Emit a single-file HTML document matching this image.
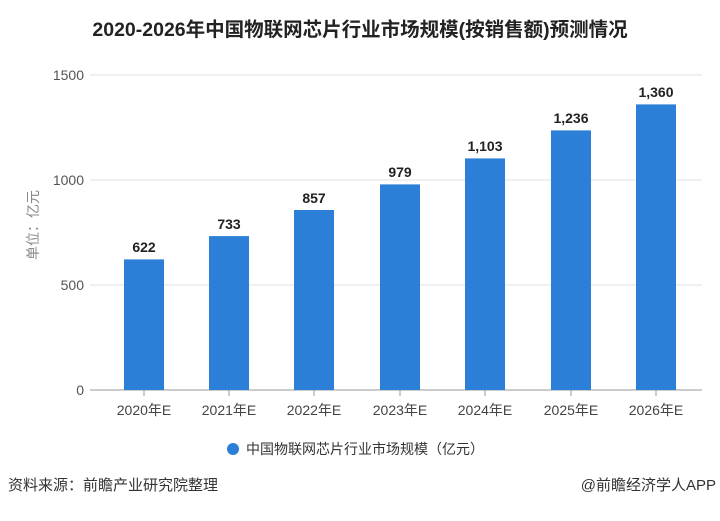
<!DOCTYPE html>
<html><head><meta charset="utf-8"><style>
body{margin:0;background:#fff;}
svg text{font-family:"Liberation Sans","Noto Sans CJK SC",sans-serif;}
</style></head><body>
<svg width="720" height="516" xmlns="http://www.w3.org/2000/svg">
<rect width="720" height="516" fill="#fff"/>
<text x="360" y="36" text-anchor="middle" font-size="19.5" font-weight="bold" fill="#222">2020-2026年中国物联网芯片行业市场规模(按销售额)预测情况</text>
<g stroke="#e2e2e2" stroke-width="1">
<line x1="90" y1="75" x2="702" y2="75"/>
<line x1="90" y1="180" x2="702" y2="180"/>
<line x1="90" y1="285" x2="702" y2="285"/>
</g>
<line x1="90" y1="390" x2="702" y2="390" stroke="#999"/>
<g font-size="14" fill="#555" text-anchor="end">
<text x="84" y="80">1500</text><text x="84" y="185">1000</text><text x="84" y="290">500</text><text x="84" y="395">0</text>
</g>
<text transform="translate(38,225) rotate(-90)" text-anchor="middle" font-size="14" fill="#888">单位：亿元</text>
<g fill="#2b7fd6">
<rect x="124" y="259.4" width="40" height="130.6"/>
<rect x="209" y="236.1" width="40" height="153.9"/>
<rect x="294" y="210.0" width="40" height="180.0"/>
<rect x="380" y="184.4" width="40" height="205.6"/>
<rect x="465" y="158.4" width="40" height="231.6"/>
<rect x="551" y="130.4" width="40" height="259.6"/>
<rect x="636" y="104.4" width="40" height="285.6"/>
</g>
<g font-size="14" font-weight="bold" fill="#222" text-anchor="middle">
<text x="144" y="252">622</text><text x="229" y="229">733</text><text x="314" y="203">857</text><text x="400" y="177">979</text><text x="485" y="151">1,103</text><text x="571" y="123">1,236</text><text x="656" y="97">1,360</text>
</g>
<g stroke="#999"><line x1="144" y1="390" x2="144" y2="396"/><line x1="229" y1="390" x2="229" y2="396"/><line x1="314" y1="390" x2="314" y2="396"/><line x1="400" y1="390" x2="400" y2="396"/><line x1="485" y1="390" x2="485" y2="396"/><line x1="571" y1="390" x2="571" y2="396"/><line x1="656" y1="390" x2="656" y2="396"/></g>
<g font-size="14" fill="#444" text-anchor="middle">
<text x="144" y="415">2020年E</text><text x="229" y="415">2021年E</text><text x="314" y="415">2022年E</text><text x="400" y="415">2023年E</text><text x="485" y="415">2024年E</text><text x="571" y="415">2025年E</text><text x="656" y="415">2026年E</text>
</g>
<circle cx="233" cy="449" r="6" fill="#2b7fd6"/>
<text x="246" y="454" font-size="14" fill="#333">中国物联网芯片行业市场规模（亿元）</text>
<text x="8" y="490" font-size="15" fill="#333">资料来源：前瞻产业研究院整理</text>
<text x="716" y="490" font-size="15" fill="#333" text-anchor="end">@前瞻经济学人APP</text>
</svg>
</body></html>
